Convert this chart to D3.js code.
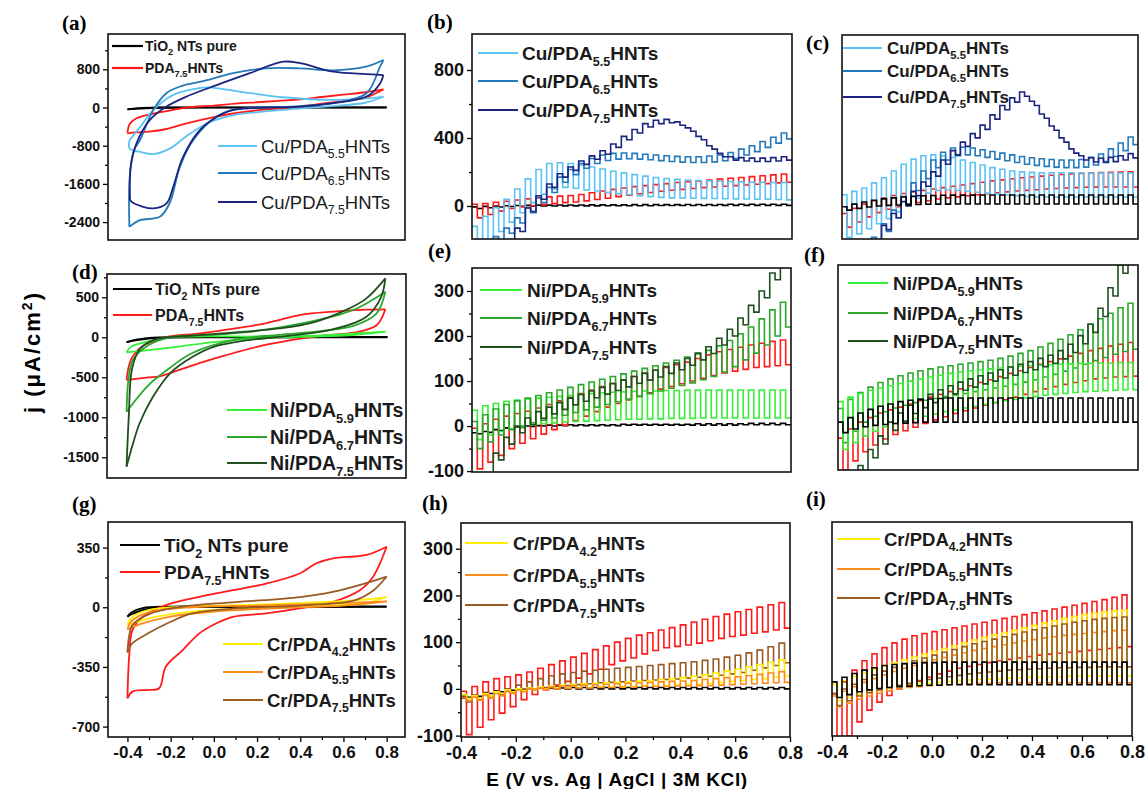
<!DOCTYPE html>
<html>
<head>
<meta charset="utf-8">
<script src="https://cdn.jsdelivr.net/npm/d3@7"></script>
<style>
  body { margin: 0; background: #fff; }
  svg { display: block; }
</style>
</head>
<body>
<div id="chart"></div>
<script>
// ---- data ----
// chopped-light scans: one light value and one dark value per chop, chop starts at these potentials (V)
var chopE = [-0.40, -0.36, -0.32, -0.28, -0.24, -0.20, -0.16, -0.12, -0.08, -0.04,
             0.00, 0.04, 0.08, 0.12, 0.16, 0.20, 0.24, 0.28, 0.32, 0.36,
             0.40, 0.44, 0.48, 0.52, 0.56, 0.60, 0.64, 0.68, 0.72, 0.76];

// (b)
var bTiO2L = [-5,-2,0,2,3,4,5,5,6,6,6,7,7,7,7,8,8,8,8,8,9,9,9,9,10,10,10,10,10,10];
var bTiO2D = [-15,-10,-6,-3,-1,0,0,0,1,1,1,1,2,2,2,2,2,3,3,3,3,3,3,4,4,4,4,4,4,4];
var bPDAL = [10,15,22,28,35,42,48,54,58,62,68,78,88,98,106,114,120,126,132,138,143,148,153,158,163,168,173,178,183,188];
var bPDAD = [-70,-50,-30,-15,-5,2,8,14,20,24,30,38,46,55,63,72,80,87,93,98,103,108,112,116,120,124,128,132,136,140];
var bCu55L = [-120,-60,-10,40,100,160,215,250,255,250,241,230,218,205,195,185,176,168,162,157,153,150,148,146,144,142,140,140,138,138];
var bCu55D = [-230,-200,-150,-95,-40,20,70,100,110,105,94,88,80,72,66,60,55,51,48,47,46,45,44,43,42,41,40,40,38,36];
var bCu65L = [-300,-230,-180,-130,-70,-10,50,110,170,215,250,280,300,310,312,310,305,300,296,292,290,290,294,300,315,335,355,380,405,430];
var bCu65D = [-330,-260,-210,-160,-100,-40,20,80,140,185,222,250,268,276,278,276,272,267,262,258,256,256,260,266,280,300,320,345,370,395];
var bCu75L = [-450,-390,-330,-260,-130,-12,60,130,190,230,265,295,325,365,410,450,485,505,510,495,460,410,355,310,290,285,282,282,285,290];
var bCu75D = [-470,-410,-350,-280,-150,-32,40,110,170,210,245,275,305,345,390,430,465,485,490,475,440,390,335,290,270,265,262,262,265,270];

// (c)
var cTiO2L = [-10,5,18,28,36,42,47,51,54,56,57,58,58,58,59,59,59,59,59,59,59,59,59,59,59,59,59,59,59,59];
var cTiO2D = [-30,-20,-12,-6,-2,0,2,3,4,5,5,6,6,6,6,6,6,6,6,6,6,6,6,6,6,6,6,6,6,6];
var cPDAL = [-50,-20,5,25,42,56,68,78,86,94,102,110,118,126,134,142,148,154,160,165,170,175,179,183,186,189,191,193,194,195];
var cPDAD = [-130,-100,-70,-45,-25,-10,5,15,25,35,42,48,54,60,66,72,77,82,86,90,94,97,100,102,104,105,106,106,106,106];
var cCu55L = [60,80,100,130,160,200,240,270,290,295,290,280,265,250,235,220,210,200,195,192,190,190,190,190,188,188,188,188,188,188];
var cCu55D = [-190,-170,-140,-110,-80,-40,0,40,70,85,88,85,80,75,70,65,60,55,50,48,47,47,47,47,47,47,47,47,47,47];
var cCu65L = [-420,-340,-260,-190,-110,-30,50,130,200,265,310,335,340,335,325,315,305,295,285,278,272,268,265,265,268,280,300,330,365,400];
var cCu65D = [-465,-385,-305,-235,-155,-75,5,85,155,220,265,290,295,290,280,270,260,250,240,233,227,223,220,220,223,235,255,285,320,355];
var cCu75L = [-600,-450,-330,-210,-120,-50,20,80,135,195,265,320,370,420,470,530,585,630,665,610,535,465,395,330,290,278,275,280,290,302];
var cCu75D = [-625,-475,-355,-235,-145,-75,-5,55,110,170,240,295,345,395,445,505,560,605,640,585,510,440,370,305,265,253,250,255,265,277];

// (e)
var eTiO2L = [-15,-12,-8,-4,-2,0,1,2,2,3,3,3,3,3,4,4,4,4,4,4,4,5,5,5,5,5,6,6,6,6];
var eTiO2D = [-17,-14,-10,-6,-3,-1,0,0,1,1,1,1,1,1,2,2,2,2,2,2,2,2,2,2,2,3,3,3,3,3];
var ePDAL = [-5,5,15,22,28,33,40,48,56,64,72,80,88,95,102,110,118,124,130,136,142,150,158,165,170,175,180,184,188,191];
var ePDAD = [-95,-80,-65,-50,-38,-28,-18,-8,2,12,22,32,42,50,58,66,74,82,88,94,100,106,112,118,122,126,130,132,134,136];
var eNi59L = [35,45,50,55,58,60,62,64,66,68,70,72,74,75,76,77,78,78,79,79,80,80,80,80,80,80,80,80,80,80];
var eNi59D = [-30,-20,-12,-6,-2,2,5,7,9,10,11,12,13,14,15,15,16,16,17,17,17,18,18,18,18,18,18,18,18,18];
var eNi67L = [10,25,38,48,56,62,68,74,80,86,92,98,104,110,116,122,128,134,140,146,153,160,168,178,190,205,220,238,258,275];
var eNi67D = [-50,-35,-20,-8,0,7,13,18,24,30,36,42,48,54,60,66,72,78,84,90,96,103,110,120,132,147,162,180,200,220];
var eNi75L = [-160,-110,-60,-25,0,18,32,42,52,62,70,78,86,94,102,110,117,124,132,140,150,162,176,195,215,240,268,300,340,380];
var eNi75D = [-175,-125,-75,-40,-15,3,17,27,37,47,55,63,71,79,87,95,102,109,117,125,135,147,161,180,200,225,253,285,325,365];

// (f)
var fTiO2L = [5,15,25,33,40,45,50,53,55,56,57,58,58,58,58,58,58,58,58,58,58,58,58,58,58,58,58,58,58,58];
var fTiO2D = [-18,-10,-5,-2,0,2,3,4,5,5,5,5,5,5,5,5,5,5,5,5,5,5,5,5,5,5,5,5,5,5];
var fPDAL = [-30,-10,5,15,25,32,38,45,52,60,66,72,78,85,92,98,105,112,118,125,132,138,144,150,156,162,167,172,176,180];
var fPDAD = [-100,-80,-60,-45,-32,-22,-14,-6,2,10,17,24,30,36,42,48,54,60,66,72,78,83,88,92,96,100,102,104,105,106];
var fNi59L = [50,60,68,75,80,85,90,95,100,104,108,112,115,118,120,122,124,126,128,129,130,131,132,133,134,134,135,135,136,136];
var fNi59D = [-55,-40,-25,-15,-5,2,8,13,18,23,28,32,36,40,44,48,52,55,58,61,64,66,68,70,72,73,74,75,76,76];
var fNi67L = [35,55,70,82,92,100,107,113,118,122,126,129,132,135,138,141,145,150,156,162,170,178,187,197,208,220,232,244,256,266];
var fNi67D = [-40,-15,5,18,28,36,42,48,53,57,61,65,68,72,76,80,84,88,93,98,104,110,117,124,132,140,147,154,160,165];
var fNi75L = [-180,-130,-90,-55,-25,5,25,42,55,66,76,85,93,100,107,113,120,126,132,138,145,152,162,176,195,220,255,300,350,400];
var fNi75D = [-198,-148,-108,-73,-43,-13,7,24,37,48,58,67,75,82,89,95,102,108,114,120,127,134,144,158,177,202,237,282,332,382];

// (h)
var hTiO2L = [-16,-14,-8,-4,-2,0,1,2,2,2,3,3,3,3,3,3,3,3,3,3,3,3,3,3,3,3,3,3,3,3];
var hTiO2D = [-18,-16,-10,-6,-3,-1,0,0,0,0,0,0,0,0,0,0,0,0,0,0,0,0,0,0,0,0,0,0,0,0];
var hPDAL = [-5,5,15,22,26,30,36,44,52,60,68,76,84,92,100,108,115,120,126,131,137,143,149,155,160,165,170,175,180,185];
var hPDAD = [-98,-82,-66,-52,-38,-23,-12,-2,8,16,23,32,42,52,60,66,75,82,88,91,94,98,103,108,112,115,119,122,126,130];
var hCr42L = [-12,-15,-10,-6,-2,0,2,4,6,8,10,11,12,13,14,15,16,18,20,22,24,27,30,34,38,42,47,52,57,62];
var hCr42D = [-20,-20,-15,-10,-6,-3,-1,0,1,2,3,3,4,4,5,5,6,6,7,8,9,10,12,14,16,18,20,22,25,28];
var hCr55L = [-18,-18,-14,-10,-6,-3,0,2,4,6,7,8,9,10,11,12,13,14,15,16,17,18,20,22,24,26,28,31,34,37];
var hCr55D = [-25,-24,-20,-15,-10,-6,-3,-1,0,1,2,2,3,3,4,4,5,5,5,6,6,7,7,8,9,10,11,12,13,14];
var hCr75L = [-20,-15,-10,-5,0,8,15,22,28,32,35,38,40,42,44,46,48,50,52,54,56,58,61,64,68,72,77,83,90,98];
var hCr75D = [-28,-22,-17,-12,-8,-4,0,3,5,7,9,11,13,14,15,17,18,19,20,21,23,25,27,29,32,35,40,45,50,56];

// (i)
var iTiO2L = [15,25,33,40,45,50,52,54,55,56,56,57,57,57,57,57,57,57,57,57,57,57,57,57,57,57,57,57,57,57];
var iTiO2D = [-18,-12,-6,-2,1,3,5,6,7,8,8,9,9,9,9,9,9,9,9,9,9,9,9,9,9,9,9,9,9,9];
var iPDAL = [-10,15,40,60,75,88,98,106,113,118,122,126,130,134,138,142,146,150,154,158,162,166,170,174,178,182,186,190,195,200];
var iPDAD = [-130,-100,-70,-45,-28,-14,0,10,18,25,32,38,44,48,52,56,60,63,66,69,72,74,76,78,80,82,84,86,88,90];
var iCr42L = [10,18,26,34,42,50,56,62,68,74,80,86,92,98,104,110,115,120,125,130,135,140,145,150,154,158,161,164,166,168];
var iCr42D = [-25,-18,-12,-6,-2,2,5,8,10,12,14,16,18,19,20,21,22,23,24,25,25,26,26,27,27,28,28,28,28,28];
var iCr55L = [-15,-5,5,14,22,30,37,44,50,56,62,67,72,77,82,86,90,94,98,102,105,108,111,114,116,118,120,122,124,125];
var iCr55D = [-38,-30,-22,-15,-9,-4,0,3,5,7,8,9,10,11,12,12,13,13,13,13,13,13,13,13,13,13,13,13,13,13];
var iCr75L = [-10,0,10,20,30,38,46,53,60,66,72,78,84,90,96,101,106,111,116,121,126,130,134,138,142,145,148,150,152,153];
var iCr75D = [-35,-25,-15,-8,-2,3,8,12,16,20,23,26,29,32,34,36,38,40,41,42,43,44,45,45,46,46,47,47,47,47];

// cyclic voltammograms: [E (V), j (uA/cm2)], anodic sweep then cathodic sweep
var aTiO2Fwd = [[-0.4,-40],[-0.35,-15],[-0.25,0],[0.2,3],[0.8,5]];
var aTiO2Rev = [[0.8,0],[0.2,-2],[-0.25,-5],[-0.35,-25],[-0.4,-40]];
var aPDAFwd = [[-0.4,-540],[-0.39,-350],[-0.36,-230],[-0.31,-158],[-0.2,-60],[-0.13,0],[0,40],[0.1,80],[0.2,110],[0.3,140],[0.4,170],[0.5,220],[0.6,270],[0.7,320],[0.785,380]];
var aPDARev = [[0.785,380],[0.75,300],[0.7,200],[0.63,154],[0.5,80],[0.4,15],[0.2,-60],[0.09,-125],[0,-200],[-0.13,-335],[-0.22,-450],[-0.3,-505],[-0.36,-520],[-0.4,-540]];
var aCu55Fwd = [[-0.39,-680],[-0.34,-400],[-0.28,-50],[-0.19,260],[-0.1,380],[-0.03,420],[0.05,380],[0.17,300],[0.32,215],[0.55,160],[0.7,190],[0.785,225]];
var aCu55Rev = [[0.785,225],[0.7,100],[0.55,30],[0.4,-20],[0.2,-100],[0.09,-160],[-0.03,-330],[-0.13,-610],[-0.2,-850],[-0.28,-975],[-0.34,-930],[-0.39,-860],[-0.39,-680]];
var aCu65Fwd = [[-0.391,-2500],[-0.39,-1500],[-0.37,-900],[-0.342,-680],[-0.28,-50],[-0.22,300],[-0.15,450],[-0.06,540],[0.09,720],[0.24,820],[0.4,820],[0.55,780],[0.7,850],[0.785,995]];
var aCu65Rev = [[0.785,995],[0.769,850],[0.707,300],[0.553,90],[0.4,30],[0.09,-50],[0.013,-190],[-0.095,-680],[-0.157,-1240],[-0.204,-2000],[-0.25,-2290],[-0.342,-2360],[-0.391,-2500]];
var aCu75Fwd = [[-0.388,-1940],[-0.385,-1240],[-0.358,-750],[-0.296,-260],[-0.219,20],[-0.126,230],[0.013,470],[0.167,720],[0.321,960],[0.4,930],[0.553,750],[0.707,700],[0.785,680]];
var aCu75Rev = [[0.785,680],[0.769,500],[0.707,230],[0.553,90],[0.399,20],[0.09,-50],[0.013,-200],[-0.064,-470],[-0.142,-1030],[-0.188,-1660],[-0.219,-2010],[-0.281,-2114],[-0.373,-2000],[-0.388,-1940]];

var dTiO2Fwd = [[-0.4,-60],[-0.35,-25],[-0.25,0],[0.2,3],[0.8,5]];
var dTiO2Rev = [[0.8,0],[0.2,-3],[-0.25,-8],[-0.35,-35],[-0.4,-60]];
var dPDAFwd = [[-0.4,-534],[-0.38,-283],[-0.33,-117],[-0.22,0],[-0.06,50],[0.24,175],[0.4,280],[0.55,320],[0.7,345],[0.79,350]];
var dPDARev = [[0.79,350],[0.75,150],[0.65,60],[0.5,20],[0.35,-40],[0.2,-120],[0.05,-230],[-0.05,-310],[-0.15,-400],[-0.25,-490],[-0.3,-500],[-0.4,-534]];
var dNi59Fwd = [[-0.4,-190],[-0.38,-120],[-0.3,-50],[-0.2,0],[0.2,10],[0.5,25],[0.79,70]];
var dNi59Rev = [[0.79,70],[0.6,20],[0.3,0],[0,-60],[-0.2,-130],[-0.3,-160],[-0.4,-190]];
var dNi67Fwd = [[-0.4,-930],[-0.39,-500],[-0.37,-280],[-0.3,-100],[-0.2,0],[0,30],[0.2,80],[0.4,170],[0.55,260],[0.65,350],[0.72,450],[0.79,570]];
var dNi67Rev = [[0.79,570],[0.75,300],[0.65,150],[0.5,80],[0.3,30],[0.1,-30],[-0.1,-200],[-0.2,-380],[-0.3,-600],[-0.4,-930]];
var dNi75Fwd = [[-0.4,-1617],[-0.39,-1000],[-0.375,-400],[-0.34,-150],[-0.27,-30],[-0.1,20],[0.1,60],[0.3,110],[0.45,180],[0.6,330],[0.7,480],[0.79,737]];
var dNi75Rev = [[0.79,737],[0.77,500],[0.7,250],[0.55,100],[0.35,20],[0.15,-40],[0,-120],[-0.1,-250],[-0.2,-450],[-0.28,-750],[-0.34,-1075],[-0.37,-1325],[-0.4,-1617]];

var gTiO2Fwd = [[-0.4,-55],[-0.38,-30],[-0.33,-5],[-0.2,4],[0.3,5],[0.8,5]];
var gTiO2Rev = [[0.8,2],[0.3,0],[-0.3,-8],[-0.37,-35],[-0.4,-55]];
var gPDAFwd = [[-0.4,-534],[-0.392,-290],[-0.377,-134],[-0.33,-57],[-0.222,13],[-0.067,61],[0.088,100],[0.243,139],[0.397,198],[0.475,258],[0.552,287],[0.707,307],[0.8,355]];
var gPDARev = [[0.8,355],[0.738,181],[0.676,100],[0.552,32],[0.397,-7],[0.243,-36],[0.088,-56],[0.01,-95],[-0.067,-153],[-0.144,-251],[-0.222,-348],[-0.253,-475],[-0.3,-485],[-0.377,-495],[-0.4,-534]];
var gCr42Fwd = [[-0.4,-105],[-0.38,-60],[-0.3,-15],[-0.1,5],[0.2,15],[0.5,30],[0.7,45],[0.8,60]];
var gCr42Rev = [[0.8,60],[0.7,25],[0.4,5],[0,-15],[-0.2,-40],[-0.33,-75],[-0.4,-105]];
var gCr55Fwd = [[-0.4,-130],[-0.38,-80],[-0.3,-30],[-0.1,0],[0.2,10],[0.5,20],[0.8,35]];
var gCr55Rev = [[0.8,35],[0.6,10],[0.3,-5],[0,-25],[-0.2,-55],[-0.33,-95],[-0.4,-130]];
var gCr75Fwd = [[-0.4,-265],[-0.392,-170],[-0.377,-105],[-0.3,-40],[-0.15,3],[0.1,30],[0.4,60],[0.55,90],[0.7,140],[0.8,180]];
var gCr75Rev = [[0.8,180],[0.74,100],[0.65,40],[0.4,10],[0.1,-7],[-0.1,-36],[-0.2,-85],[-0.3,-150],[-0.38,-215],[-0.4,-265]];

var colors = {
    tio2: "#000000", pda: "#ff1a1a",
    cu55: "#5bc2f2", cu65: "#2479b8", cu75: "#1b2580",
    ni59: "#36f036", ni67: "#2ba82b", ni75: "#1f4f1f",
    cr42: "#ffee00", cr55: "#ff8a1c", cr75: "#9a5a22"
};

// ---- drawing ----
var W = 1145, H = 789;
var FONT = "'Liberation Sans', Arial, Helvetica, sans-serif";
var SERIF = "'Liberation Serif', 'Times New Roman', serif";

var svg = d3.select("#chart").append("svg")
        .attr("width", W)
        .attr("height", H)
        .style("font-family", FONT);
svg.append("rect").attr("width", W).attr("height", H).attr("fill", "#fff");

var defs = svg.append("defs");

function makePanel(p) {
    var x = d3.scaleLinear().domain(p.xd).range([p.x0, p.x1]);
    var y = d3.scaleLinear().domain(p.yd).range([p.y1, p.y0]);

    defs.append("clipPath").attr("id", "clip-" + p.id)
            .append("rect")
            .attr("x", p.x0).attr("y", p.y0)
            .attr("width", p.x1 - p.x0).attr("height", p.y1 - p.y0);

    var g = svg.append("g").attr("class", "panel-" + p.id);
    var plot = g.append("g").attr("clip-path", "url(#clip-" + p.id + ")");

    if (p.yTicks) {
        g.append("g")
                .attr("transform", "translate(" + p.x0 + ",0)")
                .call(d3.axisLeft(y).tickValues(p.yTicks).tickSize(5).tickPadding(3)
                        .tickFormat(function (d) { return String(d); }))
                .call(function (a) { a.select(".domain").remove(); })
                .selectAll("text")
                .style("font-size", p.yFont + "px")
                .style("font-weight", "bold")
                .style("font-family", FONT)
                .attr("fill", "#111");
        g.append("g")
                .attr("transform", "translate(" + p.x0 + ",0)")
                .call(d3.axisLeft(y).tickValues(p.yMinor).tickSize(3).tickFormat(""))
                .call(function (a) { a.select(".domain").remove(); });
    }
    if (p.xTicks) {
        g.append("g")
                .attr("transform", "translate(0," + p.y1 + ")")
                .call(d3.axisBottom(x).tickValues(p.xTicks).tickSize(5).tickPadding(4)
                        .tickFormat(function (d) { return d.toFixed(1); }))
                .call(function (a) { a.select(".domain").remove(); })
                .selectAll("text")
                .style("font-size", p.xFont + "px")
                .style("font-weight", "bold")
                .style("font-family", FONT)
                .attr("fill", "#111");
        g.append("g")
                .attr("transform", "translate(0," + p.y1 + ")")
                .call(d3.axisBottom(x).tickValues(p.xMinor).tickSize(3).tickFormat(""))
                .call(function (a) { a.select(".domain").remove(); });
    }
    g.selectAll(".tick line").attr("stroke", "#000").attr("stroke-width", 1.3);

    g.append("rect")
            .attr("x", p.x0).attr("y", p.y0)
            .attr("width", p.x1 - p.x0).attr("height", p.y1 - p.y0)
            .attr("fill", "none")
            .attr("stroke", "#111")
            .attr("stroke-width", 1.6);

    g.append("text")
            .attr("x", p.lx).attr("y", p.ly)
            .text("(" + p.id + ")")
            .style("font-family", SERIF)
            .style("font-weight", "bold")
            .style("font-size", "21px");

    return {g: g, plot: plot, x: x, y: y, p: p};
}

function chopPoints(light, dark) {
    var half = (chopE[1] - chopE[0]) / 2;
    var pts = [];
    chopE.forEach(function (e, k) {
        pts.push([e, light[k]], [e + half, light[k]], [e + half, dark[k]], [e + 2 * half, dark[k]]);
    });
    return pts;
}

function drawChopped(P, series) {
    var line = d3.line()
            .x(function (d) { return P.x(d[0]); })
            .y(function (d) { return P.y(d[1]); });
    series.forEach(function (s) {
        P.plot.append("path")
                .datum(chopPoints(s.light, s.dark))
                .attr("d", line)
                .attr("fill", "none")
                .attr("stroke", s.color)
                .attr("stroke-width", 1.6)
                .attr("stroke-linejoin", "miter");
    });
}

function drawCV(P, series) {
    var line = d3.line()
            .curve(d3.curveCatmullRom.alpha(0.5))
            .x(function (d) { return P.x(d[0]); })
            .y(function (d) { return P.y(d[1]); });
    series.forEach(function (s) {
        [s.fwd, s.rev].forEach(function (branch) {
            P.plot.append("path")
                    .datum(branch)
                    .attr("d", line)
                    .attr("fill", "none")
                    .attr("stroke", s.color)
                    .attr("stroke-width", 1.8);
        });
    });
}

// label parts: [text, "sub"?]
function legend(items, opt) {
    items.forEach(function (it, i) {
        var y = opt.ys[i];
        svg.append("line")
                .attr("x1", opt.lx1).attr("x2", opt.lx2)
                .attr("y1", y).attr("y2", y)
                .attr("stroke", it.color)
                .attr("stroke-width", 2.2);
        var t = svg.append("text")
                .attr("x", opt.tx)
                .attr("y", y + opt.size * 0.36)
                .style("font-size", opt.size + "px")
                .style("font-weight", opt.weight || "bold")
                .attr("fill", "#1a1a1a");
        var shifted = false;
        it.parts.forEach(function (pt) {
            var ts = t.append("tspan").text(pt[0]);
            if (pt[1] === "sub") {
                ts.attr("dy", opt.size * 0.3).style("font-size", (opt.size * 0.66) + "px");
                shifted = true;
            } else if (shifted) {
                ts.attr("dy", -opt.size * 0.3);
                shifted = false;
            }
        });
    });
}

var L = {
    tio2: [["TiO"], ["2", "sub"], [" NTs pure"]],
    pda: [["PDA"], ["7.5", "sub"], ["HNTs"]]
};
function lab(metal, sub) {
    return [[metal + "/PDA"], [sub, "sub"], ["HNTs"]];
}

var cvX = [-0.49, 0.885];
var eX = [-0.4, 0.8];
var xMaj = [-0.4, -0.2, 0.0, 0.2, 0.4, 0.6, 0.8];
var xMin = [-0.3, -0.1, 0.1, 0.3, 0.5, 0.7];

var A = makePanel({id: "a", x0: 108, x1: 405, y0: 34, y1: 240, xd: cvX, yd: [-2775, 1540],
    yTicks: [-2400, -1600, -800, 0, 800], yMinor: [-2000, -1200, -400, 400, 1200], yFont: 14, lx: 62, ly: 30});
var B = makePanel({id: "b", x0: 472, x1: 792, y0: 34, y1: 239, xd: eX, yd: [-194, 1012],
    yTicks: [0, 400, 800], yMinor: [200, 600], yFont: 18, lx: 427, ly: 29});
var C = makePanel({id: "c", x0: 842, x1: 1138, y0: 35, y1: 239, xd: eX, yd: [-200, 1000], lx: 806, ly: 50});
var D = makePanel({id: "d", x0: 107, x1: 406, y0: 274, y1: 478, xd: cvX, yd: [-1759, 791],
    yTicks: [-1500, -1000, -500, 0, 500], yMinor: [-1250, -750, -250, 250, 750], yFont: 14, lx: 72, ly: 279});
var E = makePanel({id: "e", x0: 472, x1: 791, y0: 268, y1: 472, xd: eX, yd: [-102, 351],
    yTicks: [-100, 0, 100, 200, 300], yMinor: [-50, 50, 150, 250], yFont: 18, lx: 428, ly: 258});
var F = makePanel({id: "f", x0: 838, x1: 1138, y0: 265, y1: 470, xd: eX, yd: [-100, 350], lx: 804, ly: 262});
var G = makePanel({id: "g", x0: 108, x1: 405, y0: 522, y1: 737, xd: cvX, yd: [-761, 500],
    yTicks: [-700, -350, 0, 350], yMinor: [-525, -175, 175], yFont: 14,
    xTicks: xMaj, xMinor: xMin, xFont: 17, lx: 72, ly: 511});
var Hh = makePanel({id: "h", x0: 461, x1: 790, y0: 523, y1: 737, xd: eX, yd: [-103, 355],
    yTicks: [-100, 0, 100, 200, 300], yMinor: [-50, 50, 150, 250], yFont: 18,
    xTicks: xMaj, xMinor: xMin, xFont: 18, lx: 422, ly: 510});
var I = makePanel({id: "i", x0: 832, x1: 1132, y0: 522, y1: 736, xd: eX, yd: [-100, 355],
    xTicks: xMaj, xMinor: xMin, xFont: 18, lx: 806, ly: 506});

drawCV(A, [
    {fwd: aTiO2Fwd, rev: aTiO2Rev, color: colors.tio2},
    {fwd: aPDAFwd, rev: aPDARev, color: colors.pda},
    {fwd: aCu55Fwd, rev: aCu55Rev, color: colors.cu55},
    {fwd: aCu65Fwd, rev: aCu65Rev, color: colors.cu65},
    {fwd: aCu75Fwd, rev: aCu75Rev, color: colors.cu75}
]);
drawCV(D, [
    {fwd: dTiO2Fwd, rev: dTiO2Rev, color: colors.tio2},
    {fwd: dPDAFwd, rev: dPDARev, color: colors.pda},
    {fwd: dNi59Fwd, rev: dNi59Rev, color: colors.ni59},
    {fwd: dNi67Fwd, rev: dNi67Rev, color: colors.ni67},
    {fwd: dNi75Fwd, rev: dNi75Rev, color: colors.ni75}
]);
drawCV(G, [
    {fwd: gTiO2Fwd, rev: gTiO2Rev, color: colors.tio2},
    {fwd: gPDAFwd, rev: gPDARev, color: colors.pda},
    {fwd: gCr42Fwd, rev: gCr42Rev, color: colors.cr42},
    {fwd: gCr55Fwd, rev: gCr55Rev, color: colors.cr55},
    {fwd: gCr75Fwd, rev: gCr75Rev, color: colors.cr75}
]);

drawChopped(B, [
    {light: bTiO2L, dark: bTiO2D, color: colors.tio2},
    {light: bPDAL, dark: bPDAD, color: colors.pda},
    {light: bCu55L, dark: bCu55D, color: colors.cu55},
    {light: bCu65L, dark: bCu65D, color: colors.cu65},
    {light: bCu75L, dark: bCu75D, color: colors.cu75}
]);
drawChopped(C, [
    {light: cPDAL, dark: cPDAD, color: colors.pda},
    {light: cCu55L, dark: cCu55D, color: colors.cu55},
    {light: cCu65L, dark: cCu65D, color: colors.cu65},
    {light: cCu75L, dark: cCu75D, color: colors.cu75},
    {light: cTiO2L, dark: cTiO2D, color: colors.tio2}
]);
drawChopped(E, [
    {light: eTiO2L, dark: eTiO2D, color: colors.tio2},
    {light: ePDAL, dark: ePDAD, color: colors.pda},
    {light: eNi59L, dark: eNi59D, color: colors.ni59},
    {light: eNi67L, dark: eNi67D, color: colors.ni67},
    {light: eNi75L, dark: eNi75D, color: colors.ni75}
]);
drawChopped(F, [
    {light: fPDAL, dark: fPDAD, color: colors.pda},
    {light: fNi67L, dark: fNi67D, color: colors.ni67},
    {light: fNi59L, dark: fNi59D, color: colors.ni59},
    {light: fNi75L, dark: fNi75D, color: colors.ni75},
    {light: fTiO2L, dark: fTiO2D, color: colors.tio2}
]);
drawChopped(Hh, [
    {light: hTiO2L, dark: hTiO2D, color: colors.tio2},
    {light: hPDAL, dark: hPDAD, color: colors.pda},
    {light: hCr75L, dark: hCr75D, color: colors.cr75},
    {light: hCr42L, dark: hCr42D, color: colors.cr42},
    {light: hCr55L, dark: hCr55D, color: colors.cr55}
]);
drawChopped(I, [
    {light: iPDAL, dark: iPDAD, color: colors.pda},
    {light: iCr55L, dark: iCr55D, color: colors.cr55},
    {light: iCr42L, dark: iCr42D, color: colors.cr42},
    {light: iCr75L, dark: iCr75D, color: colors.cr75},
    {light: iTiO2L, dark: iTiO2D, color: colors.tio2}
]);

// legends
var refs = [{color: colors.tio2, parts: L.tio2}, {color: colors.pda, parts: L.pda}];
var cuItems = [{color: colors.cu55, parts: lab("Cu", "5.5")}, {color: colors.cu65, parts: lab("Cu", "6.5")}, {color: colors.cu75, parts: lab("Cu", "7.5")}];
var niItems = [{color: colors.ni59, parts: lab("Ni", "5.9")}, {color: colors.ni67, parts: lab("Ni", "6.7")}, {color: colors.ni75, parts: lab("Ni", "7.5")}];
var crItems = [{color: colors.cr42, parts: lab("Cr", "4.2")}, {color: colors.cr55, parts: lab("Cr", "5.5")}, {color: colors.cr75, parts: lab("Cr", "7.5")}];

legend(refs, {lx1: 112, lx2: 143, tx: 145, ys: [46, 68], size: 14});
legend(cuItems, {lx1: 218, lx2: 257, tx: 261, ys: [146, 173, 202], size: 18.5, weight: "normal"});
legend(cuItems, {lx1: 478, lx2: 518, tx: 522, ys: [53, 81, 110], size: 19});
legend(cuItems, {lx1: 843, lx2: 882, tx: 887, ys: [48, 71, 97], size: 17});
legend(refs, {lx1: 113, lx2: 152, tx: 155, ys: [289, 315], size: 16});
legend(niItems, {lx1: 227, lx2: 267, tx: 270, ys: [410, 437, 463], size: 19.5});
legend(niItems, {lx1: 480, lx2: 522, tx: 527, ys: [290, 318, 347], size: 19});
legend(niItems, {lx1: 848, lx2: 888, tx: 893, ys: [283, 313, 341], size: 19});
legend(refs, {lx1: 120, lx2: 160, tx: 164, ys: [545, 572], size: 19});
legend(crItems, {lx1: 223, lx2: 263, tx: 267, ys: [644, 672, 700], size: 18.5});
legend(crItems, {lx1: 465, lx2: 508, tx: 513, ys: [543, 575, 605], size: 19});
legend(crItems, {lx1: 837, lx2: 880, tx: 884, ys: [539, 569, 598], size: 18.5});

// axis titles
svg.append("text")
        .attr("x", 617).attr("y", 786)
        .attr("text-anchor", "middle")
        .style("font-size", "19px")
        .style("font-weight", "bold")
        .style("letter-spacing", "0.6px")
        .text("E (V vs. Ag | AgCl | 3M KCl)");

var yt = svg.append("text")
        .attr("transform", "translate(40,352) rotate(-90)")
        .attr("text-anchor", "middle")
        .style("font-size", "22px")
        .style("font-weight", "bold")
        .style("letter-spacing", "2px");
yt.append("tspan").text("j (\u03bcA/cm");
yt.append("tspan").text("2").attr("dy", -8).style("font-size", "14px");
yt.append("tspan").text(")").attr("dy", 8);
</script>
</body>
</html>
